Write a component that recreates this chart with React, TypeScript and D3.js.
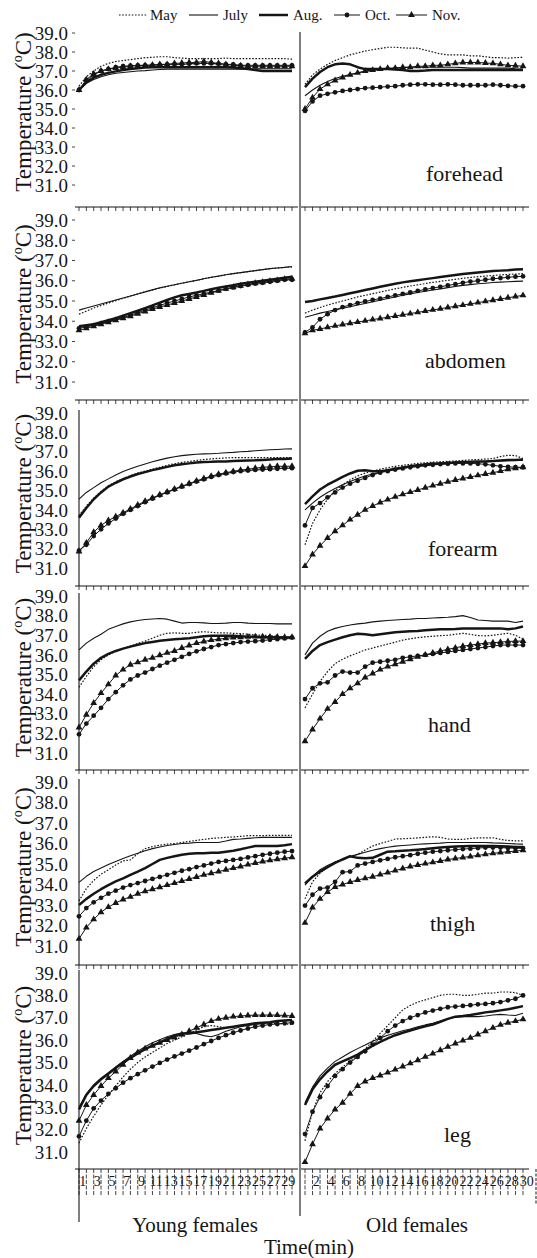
import React from 'react';
import * as d3 from 'd3';

// minute categories and labels
const minutes = [1, 2, 3, 4, 5, 6, 7, 8, 9, 10, 11, 12, 13, 14, 15, 16, 17, 18, 19, 20, 21, 22, 23, 24, 25, 26, 27, 28, 29, 30];
const youngTickLabels = [1, 3, 5, 7, 9, 11, 13, 15, 17, 19, 21, 23, 25, 27, 29];
const oldTickLabels = [2, 4, 6, 8, 10, 12, 14, 16, 18, 20, 22, 24, 26, 28, 30];
const yTicks = [39, 38, 37, 36, 35, 34, 33, 32, 31];
const seriesNames = ['May', 'July', 'Aug.', 'Oct.', 'Nov.'];
const sites = ['forehead', 'abdomen', 'forearm', 'hand', 'thigh', 'leg'];
const groups = ['Young females', 'Old females'];

// each array: rows in seriesNames order (May, July, Aug., Oct., Nov.)
const foreheadYoung = [
  [36.2, 36.7, 37.0, 37.25, 37.4, 37.5, 37.55, 37.6, 37.65, 37.7, 37.72, 37.75, 37.75, 37.7, 37.68, 37.65, 37.65, 37.65, 37.65, 37.65, 37.68, 37.65, 37.65, 37.65, 37.65, 37.65, 37.65, 37.65, 37.65, 37.62],
  [36.0, 36.35, 36.55, 36.7, 36.8, 36.88, 36.92, 36.96, 37.0, 37.02, 37.05, 37.08, 37.1, 37.1, 37.1, 37.1, 37.1, 37.1, 37.1, 37.1, 37.1, 37.1, 37.1, 37.1, 37.12, 37.12, 37.12, 37.12, 37.12, 37.12],
  [36.0, 36.4, 36.65, 36.8, 36.9, 36.98, 37.05, 37.1, 37.15, 37.18, 37.2, 37.2, 37.2, 37.2, 37.2, 37.2, 37.2, 37.2, 37.2, 37.2, 37.2, 37.18, 37.15, 37.1, 37.05, 37.0, 37.0, 37.0, 37.0, 37.0],
  [36.0, 36.5, 36.8, 37.0, 37.1, 37.2, 37.25, 37.28, 37.3, 37.3, 37.3, 37.32, 37.35, 37.35, 37.35, 37.38, 37.4, 37.4, 37.4, 37.38, 37.35, 37.35, 37.3, 37.3, 37.3, 37.3, 37.3, 37.3, 37.3, 37.3],
  [36.0, 36.55, 36.85, 37.0, 37.1, 37.15, 37.2, 37.25, 37.28, 37.3, 37.32, 37.35, 37.35, 37.4, 37.42, 37.45, 37.45, 37.5, 37.45, 37.4, 37.35, 37.3, 37.28, 37.25, 37.25, 37.25, 37.25, 37.25, 37.25, 37.25],
];
const foreheadOld = [
  [36.3, 36.8, 37.1, 37.35, 37.55, 37.7, 37.85, 37.95, 38.05, 38.12, 38.18, 38.25, 38.25, 38.22, 38.2, 38.2, 38.1, 38.0, 37.9, 37.85, 37.85, 37.85, 37.8, 37.8, 37.75, 37.7, 37.7, 37.68, 37.7, 37.72],
  [35.7, 36.0, 36.25, 36.45, 36.6, 36.72, 36.82, 36.9, 36.97, 37.03, 37.08, 37.12, 37.15, 37.18, 37.2, 37.2, 37.2, 37.2, 37.2, 37.2, 37.2, 37.18, 37.15, 37.15, 37.15, 37.15, 37.15, 37.15, 37.12, 37.1],
  [36.15, 36.6, 36.95, 37.2, 37.35, 37.4, 37.35, 37.2, 37.1, 37.1, 37.1, 37.1, 37.08, 37.05, 37.0, 37.0, 37.02, 37.05, 37.05, 37.05, 37.05, 37.05, 37.05, 37.05, 37.05, 37.05, 37.05, 37.05, 37.05, 37.05],
  [34.9, 35.4, 35.7, 35.8, 35.88, 35.95, 36.0, 36.05, 36.1, 36.12, 36.15, 36.18, 36.2, 36.25, 36.28, 36.3, 36.3, 36.28, 36.28, 36.3, 36.28, 36.25, 36.25, 36.25, 36.25, 36.28, 36.25, 36.22, 36.2, 36.2],
  [35.0, 35.6, 36.05, 36.3, 36.5, 36.65, 36.8, 36.9, 37.0, 37.05, 37.1, 37.15, 37.15, 37.2, 37.2, 37.25, 37.25, 37.3, 37.3, 37.35, 37.4, 37.45, 37.45, 37.45, 37.42, 37.4, 37.35, 37.3, 37.28, 37.25],
];
const abdomenYoung = [
  [34.35, 34.5, 34.65, 34.78, 34.9, 35.02, 35.13, 35.24, 35.35, 35.45, 35.55, 35.64, 35.72, 35.8, 35.88, 35.95, 36.02, 36.1, 36.17, 36.23, 36.3, 36.35, 36.4, 36.45, 36.5, 36.55, 36.6, 36.63, 36.66, 36.68],
  [34.55, 34.65, 34.75, 34.85, 34.95, 35.05, 35.15, 35.25, 35.35, 35.45, 35.55, 35.65, 35.73, 35.8, 35.88, 35.95, 36.02, 36.1, 36.17, 36.23, 36.3, 36.35, 36.4, 36.45, 36.5, 36.55, 36.6, 36.63, 36.66, 36.7],
  [33.75, 33.8, 33.85, 33.95, 34.05, 34.15, 34.28, 34.4, 34.52, 34.65, 34.78, 34.92, 35.05, 35.18, 35.28, 35.35, 35.42, 35.5, 35.58, 35.65, 35.72, 35.78, 35.85, 35.9, 35.95, 36.0, 36.05, 36.1, 36.15, 36.2],
  [33.65, 33.72, 33.8, 33.88, 33.98, 34.08, 34.18, 34.3, 34.42, 34.55, 34.67, 34.78, 34.9, 35.0, 35.1, 35.2, 35.28, 35.36, 35.44, 35.52, 35.6, 35.67, 35.74, 35.8, 35.86, 35.9, 35.95, 36.0, 36.05, 36.05],
  [33.55, 33.65, 33.75, 33.85, 33.95, 34.05, 34.15, 34.25, 34.37, 34.48, 34.6, 34.7, 34.8, 34.9, 35.0, 35.1, 35.2, 35.3, 35.4, 35.5, 35.6, 35.68, 35.75, 35.82, 35.88, 35.93, 35.98, 36.02, 36.08, 36.1],
];
const abdomenOld = [
  [34.4, 34.55, 34.68, 34.8, 34.9, 35.0, 35.1, 35.2, 35.28, 35.36, 35.44, 35.52, 35.6, 35.67, 35.74, 35.8, 35.86, 35.92, 35.97, 36.02, 36.07, 36.12, 36.16, 36.2, 36.23, 36.26, 36.29, 36.31, 36.33, 36.35],
  [34.2, 34.3, 34.4, 34.48, 34.56, 34.64, 34.72, 34.8, 34.88, 34.96, 35.04, 35.12, 35.2, 35.28, 35.35, 35.42, 35.48, 35.54, 35.6, 35.66, 35.72, 35.77, 35.81, 35.85, 35.88, 35.91, 35.93, 35.95, 35.97, 35.98],
  [34.95, 35.0, 35.08, 35.15, 35.22, 35.3, 35.38, 35.46, 35.54, 35.62, 35.7, 35.78, 35.85, 35.92, 35.98, 36.03, 36.08, 36.13, 36.18, 36.23, 36.28, 36.33, 36.37, 36.41, 36.45, 36.48, 36.5, 36.52, 36.55, 36.57],
  [33.45, 33.7, 34.1, 34.35, 34.55, 34.7, 34.8, 34.9, 34.98, 35.05, 35.12, 35.2, 35.28, 35.35, 35.42, 35.5, 35.57, 35.64, 35.7, 35.77, 35.83, 35.9, 35.96, 36.0, 36.05, 36.1, 36.13, 36.17, 36.2, 36.22],
  [33.4, 33.55, 33.62, 33.7, 33.77, 33.84, 33.9, 33.96, 34.02, 34.08, 34.14, 34.2, 34.26, 34.32, 34.38, 34.44, 34.5, 34.56, 34.62, 34.68, 34.74, 34.8, 34.86, 34.92, 34.98, 35.04, 35.1, 35.16, 35.22, 35.28],
];
const forearmYoung = [
  [33.7, 34.2, 34.6, 34.95, 35.25, 35.45, 35.62, 35.77, 35.9, 36.0, 36.1, 36.2, 36.3, 36.38, 36.45, 36.5, 36.55, 36.6, 36.63, 36.66, 36.68, 36.7, 36.7, 36.7, 36.7, 36.7, 36.7, 36.7, 36.7, 36.7],
  [34.55, 34.9, 35.15, 35.4, 35.6, 35.8, 35.98, 36.12, 36.25, 36.37, 36.48, 36.58, 36.67, 36.74, 36.8, 36.84, 36.87, 36.89, 36.9, 36.92, 36.95, 36.97, 37.0, 37.02, 37.05, 37.08, 37.1, 37.12, 37.14, 37.15],
  [33.6, 34.1, 34.55, 34.9, 35.2, 35.4, 35.58, 35.72, 35.85, 35.95, 36.05, 36.14, 36.22, 36.3, 36.35, 36.4, 36.44, 36.47, 36.48, 36.5, 36.5, 36.52, 36.54, 36.55, 36.56, 36.58, 36.6, 36.62, 36.63, 36.65],
  [31.9, 32.2, 32.65, 33.0, 33.3, 33.55, 33.8, 34.0, 34.2, 34.4, 34.58, 34.75, 34.9, 35.05, 35.2, 35.33, 35.46, 35.58, 35.7, 35.8, 35.88, 35.95, 36.0, 36.03, 36.06, 36.08, 36.1, 36.12, 36.14, 36.15],
  [31.85, 32.3, 32.85, 33.2, 33.45, 33.65, 33.85, 34.05, 34.25, 34.45, 34.62, 34.78, 34.93, 35.08, 35.22, 35.36, 35.5, 35.62, 35.74, 35.84, 35.92, 35.99, 36.05, 36.1, 36.15, 36.2, 36.22, 36.25, 36.25, 36.25],
];
const forearmOld = [
  [32.2, 33.3, 34.0, 34.55, 35.0, 35.3, 35.55, 35.75, 35.9, 36.0, 36.1, 36.18, 36.25, 36.3, 36.35, 36.4, 36.43, 36.46, 36.48, 36.5, 36.52, 36.55, 36.58, 36.6, 36.62, 36.65, 36.75, 36.82, 36.8, 36.65],
  [34.0, 34.35, 34.65, 34.9, 35.1, 35.3, 35.47, 35.62, 35.75, 35.85, 35.95, 36.03, 36.1, 36.16, 36.2, 36.24, 36.28, 36.32, 36.36, 36.4, 36.42, 36.44, 36.46, 36.48, 36.5, 36.52, 36.53, 36.54, 36.55, 36.55],
  [34.3, 34.7, 35.05, 35.3, 35.5, 35.7, 35.88, 36.02, 36.05, 36.0, 36.0, 36.05, 36.12, 36.18, 36.25, 36.3, 36.34, 36.38, 36.4, 36.42, 36.45, 36.47, 36.48, 36.5, 36.5, 36.52, 36.55, 36.57, 36.58, 36.6],
  [33.2, 34.1, 34.35, 34.65, 34.9, 35.15, 35.35, 35.5, 35.65, 35.8, 35.92, 36.0, 36.08, 36.14, 36.2, 36.25, 36.3, 36.33, 36.36, 36.38, 36.4, 36.4, 36.4, 36.38, 36.35, 36.3, 36.25, 36.22, 36.2, 36.2],
  [31.1, 31.7, 32.15, 32.55, 32.9, 33.2, 33.5, 33.75, 34.0, 34.2, 34.38, 34.53, 34.67, 34.8, 34.92, 35.03, 35.14, 35.25, 35.35, 35.45, 35.54, 35.62, 35.7, 35.78, 35.85, 35.92, 36.0, 36.1, 36.15, 36.2],
];
const handYoung = [
  [34.35, 34.9, 35.4, 35.75, 36.0, 36.18, 36.32, 36.45, 36.58, 36.7, 36.85, 37.0, 37.1, 37.12, 37.1, 37.1, 37.15, 37.18, 37.15, 37.12, 37.12, 37.1, 37.08, 37.05, 37.02, 37.0, 36.98, 36.95, 36.92, 36.88],
  [36.25, 36.6, 36.85, 37.05, 37.3, 37.45, 37.58, 37.68, 37.75, 37.8, 37.83, 37.85, 37.82, 37.72, 37.62, 37.65, 37.65, 37.63, 37.6, 37.6, 37.62, 37.65, 37.65, 37.62, 37.6, 37.6, 37.6, 37.58, 37.58, 37.58],
  [34.7, 35.15, 35.55, 35.85, 36.05, 36.2, 36.32, 36.42, 36.52, 36.6, 36.66, 36.72, 36.76, 36.8, 36.82, 36.85, 36.9, 36.95, 36.97, 36.97, 36.97, 36.97, 36.95, 36.93, 36.92, 36.9, 36.9, 36.88, 36.88, 36.88],
  [31.95, 32.5, 32.9, 33.3, 33.75, 34.1, 34.45, 34.75, 34.95, 35.1, 35.28, 35.45, 35.6, 35.75, 35.9, 36.05, 36.18, 36.3, 36.4, 36.5, 36.55, 36.6, 36.65, 36.68, 36.7, 36.73, 36.77, 36.8, 36.84, 36.88],
  [32.3, 32.95, 33.55, 34.05, 34.5, 34.95, 35.25, 35.5, 35.62, 35.75, 35.85, 35.98, 36.1, 36.2, 36.35, 36.48, 36.6, 36.68, 36.75, 36.8, 36.85, 36.88, 36.9, 36.92, 36.93, 36.93, 36.92, 36.92, 36.9, 36.9],
];
const handOld = [
  [33.3, 34.0, 34.65, 35.15, 35.55, 35.78, 35.95, 36.1, 36.25, 36.35, 36.45, 36.55, 36.65, 36.75, 36.82, 36.88, 36.92, 36.95, 36.98, 37.0, 37.05, 37.1, 37.05, 36.98, 36.97, 37.0, 37.05, 37.1, 37.0, 36.8],
  [36.0, 36.6, 36.95, 37.2, 37.35, 37.45, 37.52, 37.58, 37.62, 37.68, 37.72, 37.75, 37.78, 37.8, 37.82, 37.85, 37.85, 37.88, 37.9, 37.92, 37.95, 38.0, 37.9, 37.78, 37.75, 37.72, 37.72, 37.72, 37.65, 37.72],
  [35.8, 36.2, 36.5, 36.65, 36.78, 36.9, 37.0, 37.08, 37.05, 37.0, 37.05, 37.1, 37.15, 37.18, 37.2, 37.22, 37.25, 37.28, 37.3, 37.3, 37.32, 37.35, 37.35, 37.35, 37.35, 37.35, 37.35, 37.3, 37.35, 37.45],
  [33.75, 34.3, 34.55, 34.6, 34.95, 35.15, 35.1, 35.1, 35.4, 35.6, 35.65, 35.7, 35.75, 35.85, 35.9, 35.95, 36.0, 36.05, 36.1, 36.15, 36.2, 36.25, 36.3, 36.35, 36.4, 36.45, 36.5, 36.5, 36.5, 36.5],
  [31.6, 32.2, 32.75, 33.25, 33.6, 34.0, 34.3, 34.55, 34.85, 35.05, 35.25, 35.4, 35.52, 35.65, 35.78, 35.9, 36.0, 36.1, 36.2, 36.28, 36.36, 36.44, 36.5, 36.55, 36.6, 36.62, 36.65, 36.68, 36.7, 36.7],
];
const thighYoung = [
  [33.2, 33.8, 34.2, 34.5, 34.72, 34.95, 35.15, 35.2, 35.5, 35.75, 35.85, 35.92, 35.97, 36.0, 36.05, 36.1, 36.15, 36.2, 36.25, 36.27, 36.3, 36.32, 36.35, 36.38, 36.38, 36.38, 36.4, 36.4, 36.4, 36.4],
  [34.1, 34.4, 34.63, 34.8, 34.97, 35.12, 35.27, 35.4, 35.52, 35.65, 35.75, 35.83, 35.9, 35.95, 36.0, 36.02, 36.05, 36.05, 36.05, 36.05, 36.12, 36.2, 36.22, 36.25, 36.28, 36.3, 36.3, 36.3, 36.3, 36.3],
  [33.0, 33.3, 33.55, 33.77, 33.97, 34.15, 34.3, 34.47, 34.63, 34.8, 35.0, 35.2, 35.3, 35.38, 35.45, 35.5, 35.52, 35.53, 35.55, 35.55, 35.6, 35.65, 35.72, 35.8, 35.88, 35.88, 35.88, 35.88, 35.92, 35.97],
  [32.45, 32.85, 33.13, 33.35, 33.55, 33.7, 33.85, 33.97, 34.07, 34.17, 34.27, 34.37, 34.47, 34.57, 34.67, 34.75, 34.85, 34.93, 35.02, 35.1, 35.15, 35.2, 35.25, 35.32, 35.38, 35.45, 35.5, 35.55, 35.6, 35.63],
  [31.35, 31.9, 32.3, 32.65, 32.9, 33.1, 33.27, 33.4, 33.55, 33.67, 33.77, 33.87, 33.97, 34.07, 34.17, 34.27, 34.37, 34.47, 34.55, 34.63, 34.72, 34.8, 34.88, 34.97, 35.05, 35.12, 35.18, 35.23, 35.28, 35.33],
];
const thighOld = [
  [33.3, 34.13, 34.55, 34.85, 35.1, 35.25, 35.38, 35.47, 35.68, 35.88, 36.0, 36.1, 36.22, 36.23, 36.25, 36.27, 36.3, 36.33, 36.3, 36.22, 36.2, 36.2, 36.25, 36.27, 36.27, 36.28, 36.2, 36.15, 36.13, 36.13],
  [33.97, 34.4, 34.72, 34.93, 35.1, 35.22, 35.35, 35.47, 35.57, 35.67, 35.75, 35.82, 35.87, 35.9, 35.93, 35.96, 35.98, 36.0, 36.02, 36.05, 36.05, 36.05, 36.05, 36.05, 36.05, 36.03, 36.02, 36.0, 35.98, 35.97],
  [34.05, 34.38, 34.63, 34.85, 35.05, 35.22, 35.38, 35.3, 35.28, 35.3, 35.45, 35.6, 35.62, 35.65, 35.67, 35.7, 35.73, 35.77, 35.8, 35.83, 35.85, 35.87, 35.88, 35.88, 35.88, 35.88, 35.87, 35.85, 35.83, 35.83],
  [32.97, 33.5, 33.8, 33.85, 34.13, 34.6, 34.63, 34.93, 35.02, 35.1, 35.18, 35.25, 35.33, 35.38, 35.43, 35.5, 35.55, 35.6, 35.63, 35.67, 35.7, 35.73, 35.75, 35.78, 35.8, 35.8, 35.8, 35.78, 35.77, 35.77],
  [32.13, 32.88, 33.3, 33.63, 33.88, 34.0, 34.12, 34.22, 34.3, 34.38, 34.48, 34.58, 34.68, 34.78, 34.88, 34.95, 35.02, 35.08, 35.15, 35.22, 35.27, 35.32, 35.37, 35.42, 35.47, 35.52, 35.56, 35.6, 35.63, 35.67],
];
const legYoung = [
  [31.4, 32.05, 32.6, 33.1, 33.55, 33.95, 34.35, 34.7, 35.0, 35.25, 35.45, 35.65, 35.85, 36.0, 36.15, 36.3, 36.45, 36.6, 36.65, 36.6, 36.55, 36.6, 36.65, 36.7, 36.75, 36.75, 36.75, 36.75, 36.72, 36.7],
  [33.0, 33.6, 34.0, 34.3, 34.55, 34.8, 35.05, 35.28, 35.5, 35.7, 35.88, 36.02, 36.15, 36.25, 36.3, 36.32, 36.3, 36.2, 36.15, 36.25, 36.4, 36.5, 36.6, 36.65, 36.7, 36.75, 36.8, 36.85, 36.88, 36.9],
  [32.9, 33.55, 33.95, 34.25, 34.5, 34.75, 35.0, 35.2, 35.4, 35.6, 35.75, 35.9, 36.05, 36.2, 36.3, 36.3, 36.35, 36.4, 36.45, 36.5, 36.55, 36.6, 36.65, 36.7, 36.75, 36.78, 36.8, 36.85, 36.88, 36.9],
  [31.7, 32.4, 32.95, 33.3, 33.6, 33.85, 34.1, 34.3, 34.48, 34.65, 34.82, 34.98, 35.13, 35.27, 35.4, 35.53, 35.67, 35.82, 35.96, 36.1, 36.22, 36.33, 36.43, 36.52, 36.6, 36.65, 36.7, 36.72, 36.75, 36.78],
  [32.4, 33.1, 33.55, 33.95, 34.3, 34.6, 34.9, 35.2, 35.45, 35.62, 35.75, 35.88, 36.0, 36.12, 36.25, 36.4, 36.55, 36.7, 36.85, 36.95, 37.0, 37.05, 37.08, 37.1, 37.12, 37.12, 37.12, 37.12, 37.1, 37.08],
];
const legOld = [
  [31.5, 32.8, 33.65, 34.15, 34.5, 34.8, 35.05, 35.3, 35.6, 35.95, 36.3, 36.65, 37.0, 37.35, 37.55, 37.7, 37.8, 37.9, 38.0, 38.05, 38.05, 38.0, 38.0, 38.05, 38.1, 38.1, 38.15, 38.15, 38.12, 38.0],
  [33.2, 33.9, 34.4, 34.75, 35.05, 35.25, 35.45, 35.62, 35.78, 35.95, 36.1, 36.22, 36.32, 36.42, 36.5, 36.6, 36.68, 36.75, 36.85, 36.95, 37.02, 37.05, 37.05, 37.05, 37.08, 37.12, 37.15, 37.12, 37.1, 37.2],
  [33.1, 33.8, 34.25, 34.6, 34.9, 35.05, 35.2, 35.35, 35.55, 35.75, 35.92, 36.08, 36.22, 36.33, 36.43, 36.53, 36.62, 36.7, 36.82, 36.95, 37.05, 37.08, 37.12, 37.18, 37.24, 37.28, 37.33, 37.38, 37.45, 37.52],
  [31.8, 32.8, 33.45, 33.95, 34.4, 34.7, 35.0, 35.25, 35.5, 35.8, 36.1, 36.4, 36.65, 36.85, 37.0, 37.12, 37.24, 37.32, 37.4, 37.47, 37.5, 37.53, 37.56, 37.6, 37.62, 37.65, 37.7, 37.78, 37.85, 38.0],
  [30.55, 31.35, 32.05, 32.5, 32.9, 33.2, 33.6, 33.95, 34.15, 34.3, 34.42, 34.55, 34.68, 34.82, 34.96, 35.1, 35.25, 35.4, 35.55, 35.7, 35.85, 35.98, 36.1, 36.25, 36.4, 36.55, 36.68, 36.78, 36.85, 36.93],
];

const siteData = [
  [foreheadYoung, foreheadOld],
  [abdomenYoung, abdomenOld],
  [forearmYoung, forearmOld],
  [handYoung, handOld],
  [thighYoung, thighOld],
  [legYoung, legOld],
];

// page layout (pixels)
const W = 537;
const H = 1258;
const INK = '#151515';
const FONT = 'Liberation Serif, Times New Roman, DejaVu Serif, serif';
const panelBox = [
  { top: 32, y39: 33, y31: 185, bottom: 207, axisLine: false, labelX: 426, labelY: 181 },
  { top: 206, y39: 220, y31: 382, bottom: 400, axisLine: false, labelX: 425, labelY: 368 },
  { top: 400, y39: 413, y31: 568, bottom: 586, axisLine: true, labelX: 428, labelY: 556 },
  { top: 586, y39: 596, y31: 753, bottom: 770, axisLine: true, labelX: 428, labelY: 732 },
  { top: 770, y39: 782, y31: 946, bottom: 965, axisLine: true, labelX: 430, labelY: 931 },
  { top: 965, y39: 973, y31: 1152, bottom: 1169, axisLine: true, labelX: 444, labelY: 1142 },
];
const xLeft = d3.scalePoint<number>().domain(minutes).range([79, 292]);
const xRight = d3.scalePoint<number>().domain(minutes).range([305, 523]);

const styles: Record<string, { width: number; dash?: string; marker?: 'circle' | 'triangle' }> = {
  May: { width: 1.2, dash: '1.6,1.6' },
  July: { width: 1.1 },
  'Aug.': { width: 2.5 },
  'Oct.': { width: 1, marker: 'circle' },
  'Nov.': { width: 1, marker: 'triangle' },
};
const triPath = d3.symbol(d3.symbolTriangle, 20)() as string;

function Marker({ kind, x, y }: { kind?: string; x: number; y: number }) {
  if (kind === 'circle') return <circle cx={x} cy={y} r={2.4} fill={INK} />;
  if (kind === 'triangle') return <path d={triPath} transform={`translate(${x},${y})`} fill={INK} />;
  return null;
}

function Series({ name, values, x, y }: { name: string; values: number[]; x: d3.ScalePoint<number>; y: d3.ScaleLinear<number, number> }) {
  const st = styles[name];
  const line = d3.line<number>().x((_, i) => x(minutes[i]) as number).y((d) => y(d));
  return (
    <g>
      <path d={line(values) as string} fill="none" stroke={INK} strokeWidth={st.width} strokeDasharray={st.dash} strokeLinejoin="round" />
      {st.marker && values.map((v, i) => <Marker key={i} kind={st.marker} x={x(minutes[i]) as number} y={y(v)} />)}
    </g>
  );
}

function XTicks({ x, yPos, len }: { x: d3.ScalePoint<number>; yPos: number; len: number }) {
  const [a, b] = x.range();
  return (
    <g stroke={INK} strokeWidth={0.8}>
      <line x1={a - 4} x2={b + 6} y1={yPos} y2={yPos} strokeWidth={1} />
      {minutes.map((m) => (
        <line key={m} x1={x(m)} x2={x(m)} y1={yPos} y2={yPos + len} strokeDasharray={len > 10 ? '4,1.5' : undefined} />
      ))}
    </g>
  );
}

function Panel({ idx }: { idx: number }) {
  const box = panelBox[idx];
  const y = d3.scaleLinear().domain([31, 39]).range([box.y31, box.y39]);
  const isLast = idx === panelBox.length - 1;
  const mid = (box.y39 + box.y31) / 2 + 3;
  return (
    <g>
      {box.axisLine && <line x1={79} x2={79} y1={box.y39 - 3} y2={box.bottom} stroke={INK} strokeWidth={1.1} />}
      {yTicks.map((t) => (
        <g key={t}>
          <text x={68} y={y(t)} dy="0.35em" textAnchor="end" fontSize={19} fontFamily={FONT} fill={INK}>
            {t.toFixed(1)}
          </text>
          {!box.axisLine && <line x1={72} x2={75} y1={y(t)} y2={y(t)} stroke={INK} strokeWidth={0.8} />}
        </g>
      ))}
      <text transform={`translate(31,${mid}) rotate(-90)`} textAnchor="middle" fontSize={23} fontFamily={FONT} fill={INK}>
        Temperature (<tspan fontSize={14} dy={-9}>o</tspan>
        <tspan dy={9}>C)</tspan>
      </text>
      <XTicks x={xLeft} yPos={box.bottom} len={isLast ? 26 : 4} />
      <XTicks x={xRight} yPos={box.bottom} len={isLast ? 26 : 4} />
      {siteData[idx].map((groupRows, g) => {
        const x = g === 0 ? xLeft : xRight;
        return groupRows.map((vals, s) => <Series key={`${g}-${s}`} name={seriesNames[s]} values={vals} x={x} y={y} />);
      })}
      <text x={box.labelX} y={box.labelY} fontSize={22} fontFamily={FONT} fill={INK}>
        {sites[idx]}
      </text>
    </g>
  );
}

function Legend() {
  const items = [
    { x0: 119, x1: 147, tx: 150 },
    { x0: 189, x1: 218, tx: 223 },
    { x0: 259, x1: 288, tx: 293 },
    { x0: 334, x1: 360, tx: 365 },
    { x0: 396, x1: 427, tx: 432 },
  ];
  const ly = 15;
  return (
    <g>
      {seriesNames.map((n, i) => {
        const it = items[i];
        const st = styles[n];
        return (
          <g key={n}>
            <line x1={it.x0} x2={it.x1} y1={ly} y2={ly} stroke={INK} strokeWidth={st.width} strokeDasharray={st.dash} />
            <Marker kind={st.marker} x={(it.x0 + it.x1) / 2} y={ly} />
            <text x={it.tx} y={ly + 5} fontSize={15} fontFamily={FONT} fill={INK}>
              {n}
            </text>
          </g>
        );
      })}
    </g>
  );
}

export default function App() {
  const last = panelBox[panelBox.length - 1];
  const stepL = xLeft.step();
  const stepR = xRight.step();
  return (
    <svg width={W} height={H} style={{ position: 'absolute', left: 0, top: 0, background: '#fff' }}>
      <rect width={W} height={H} fill="#fff" />
      <Legend />
      <line x1={300} x2={300} y1={32} y2={1216} stroke={INK} strokeWidth={1.1} />
      <line x1={79} x2={79} y1={last.bottom} y2={1222} stroke={INK} strokeWidth={1.1} />
      <line x1={536} x2={536} y1={last.bottom} y2={1205} stroke={INK} strokeWidth={1} strokeDasharray="3,1.5" />
      {panelBox.map((_, i) => (
        <Panel key={i} idx={i} />
      ))}
      {youngTickLabels.map((m) => (
        <text key={`y${m}`} x={(xLeft(m) as number) + stepL / 2} y={1186} textAnchor="middle" fontSize={14} fontFamily={FONT} fill={INK}>
          {m}
        </text>
      ))}
      {oldTickLabels.map((m) => (
        <text key={`o${m}`} x={(xRight(m) as number) + stepR / 2} y={1186} textAnchor="middle" fontSize={14} fontFamily={FONT} fill={INK}>
          {m}
        </text>
      ))}
      <text x={195} y={1232} textAnchor="middle" fontSize={21} fontFamily={FONT} fill={INK}>
        {groups[0]}
      </text>
      <text x={417} y={1232} textAnchor="middle" fontSize={21} fontFamily={FONT} fill={INK}>
        {groups[1]}
      </text>
      <text x={309} y={1254} textAnchor="middle" fontSize={21} fontFamily={FONT} fill={INK}>
        Time(min)
      </text>
    </svg>
  );
}
